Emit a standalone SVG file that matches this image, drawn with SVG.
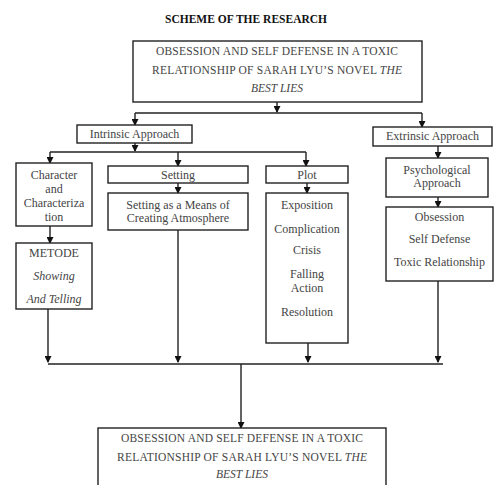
<svg xmlns="http://www.w3.org/2000/svg" width="501" height="485" viewBox="0 0 501 485">
<defs>
<marker id="ah" markerWidth="7" markerHeight="7" refX="6" refY="3.5" orient="auto" markerUnits="userSpaceOnUse">
<path d="M0,0 L7,3.5 L0,7 Z" fill="#111"/>
</marker>
<style>
.box{fill:#fff;stroke:#222;stroke-width:1.4}
.t{font-family:"Liberation Serif","Times New Roman",serif;font-size:12px;fill:#444;text-anchor:middle}
.c{font-size:11.5px}
.i{font-style:italic}
.ttl{font-family:"Liberation Serif","Times New Roman",serif;font-size:11.5px;font-weight:bold;fill:#111;text-anchor:middle}
.ln{fill:none;stroke:#222;stroke-width:1.4}
.ar{fill:none;stroke:#222;stroke-width:1.4;marker-end:url(#ah)}
</style>
</defs>
<rect width="501" height="485" fill="#fff"/>
<text class="ttl" x="246" y="23">SCHEME OF THE RESEARCH</text>

<g id="connectors">
<path class="ar" d="M277,102 V112"/>
<path class="ln" d="M135,113 H422"/>
<path class="ar" d="M135,113 V125"/>
<path class="ar" d="M422,113 V127"/>
<path class="ar" d="M135,143 V151"/>
<path class="ln" d="M50,152 H306"/>
<path class="ar" d="M50,152 V163"/>
<path class="ar" d="M178,152 V166"/>
<path class="ar" d="M306,152 V166"/>
<path class="ar" d="M178,183 V193"/>
<path class="ar" d="M307,183 V193"/>
<path class="ar" d="M50,226 V243"/>
<path class="ar" d="M438,146 V158"/>
<path class="ar" d="M438,197 V207"/>
<path class="ar" d="M48,309 V362"/>
<path class="ar" d="M178,230 V362"/>
<path class="ar" d="M308,343 V362"/>
<path class="ar" d="M438,281 V362"/>
<path class="ln" d="M48,364 H443"/>
<path class="ar" d="M241,364 V428"/>
</g>

<g id="top">
<rect class="box" x="133" y="41" width="289" height="61"/>
<text class="t c" x="277" y="55" textLength="242" lengthAdjust="spacing">OBSESSION AND SELF DEFENSE IN A TOXIC</text>
<text class="t c" x="277" y="74" textLength="250" lengthAdjust="spacing">RELATIONSHIP OF SARAH LYU’S NOVEL <tspan class="i">THE</tspan></text>
<text class="t c i" x="277" y="92">BEST LIES</text>
</g>

<g id="intrinsic">
<rect class="box" x="77" y="125" width="115" height="18"/>
<text class="t" x="134.5" y="138">Intrinsic Approach</text>
</g>

<g id="extrinsic">
<rect class="box" x="373" y="127" width="119" height="19"/>
<text class="t" x="432.5" y="140">Extrinsic Approach</text>
</g>

<g id="character">
<rect class="box" x="16" y="163" width="76" height="63"/>
<text class="t" x="54" y="179">Character</text>
<text class="t" x="54" y="193">and</text>
<text class="t" x="54" y="207">Characteriza</text>
<text class="t" x="54" y="221">tion</text>
</g>

<g id="setting">
<rect class="box" x="108" y="166" width="140" height="17"/>
<text class="t" x="178" y="179">Setting</text>
</g>

<g id="setting-means">
<rect class="box" x="108" y="193" width="140" height="37"/>
<text class="t" x="178" y="209">Setting as a Means of</text>
<text class="t" x="178" y="222">Creating Atmosphere</text>
</g>

<g id="plot">
<rect class="box" x="266" y="166" width="82" height="17"/>
<text class="t" x="307" y="179">Plot</text>
</g>

<g id="plot-stages">
<rect class="box" x="266" y="193" width="82" height="150"/>
<text class="t" x="307" y="209">Exposition</text>
<text class="t" x="307" y="233">Complication</text>
<text class="t" x="307" y="254">Crisis</text>
<text class="t" x="307" y="278">Falling</text>
<text class="t" x="307" y="292">Action</text>
<text class="t" x="307" y="316">Resolution</text>
</g>

<g id="metode">
<rect class="box" x="16" y="243" width="76" height="66"/>
<text class="t" x="54" y="257">METODE</text>
<text class="t i" x="54" y="280">Showing</text>
<text class="t i" x="54" y="303">And Telling</text>
</g>

<g id="psychological">
<rect class="box" x="386" y="158" width="102" height="39"/>
<text class="t" x="437" y="174">Psychological</text>
<text class="t" x="437" y="187">Approach</text>
</g>

<g id="obsession">
<rect class="box" x="386" y="207" width="107" height="74"/>
<text class="t" x="439.5" y="221">Obsession</text>
<text class="t" x="439.5" y="243">Self Defense</text>
<text class="t" x="439.5" y="266">Toxic Relationship</text>
</g>

<g id="bottom">
<rect class="box" x="98" y="428" width="288" height="70"/>
<text class="t c" x="242" y="442" textLength="242" lengthAdjust="spacing">OBSESSION AND SELF DEFENSE IN A TOXIC</text>
<text class="t c" x="242" y="461" textLength="250" lengthAdjust="spacing">RELATIONSHIP OF SARAH LYU’S NOVEL <tspan class="i">THE</tspan></text>
<text class="t c i" x="242" y="478">BEST LIES</text>
</g>
</svg>
